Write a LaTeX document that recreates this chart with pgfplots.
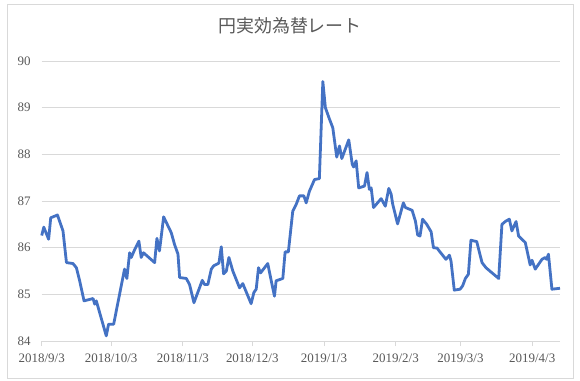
\documentclass[border=0pt]{standalone}
\usepackage{fontspec}
\setmainfont{Liberation Serif}
\newfontfamily\cjk{Noto Sans CJK JP}
\usepackage{pgfplots}
\pgfplotsset{compat=1.18}
\definecolor{serie}{HTML}{4472C4}
\definecolor{gridc}{HTML}{D9D9D9}
\definecolor{txt}{HTML}{595959}
\begin{document}
\begin{tikzpicture}[x=1bp,y=1bp]
\useasboundingbox (0,0) rectangle (580,380);
\fill[white] (0,0) rectangle (580,380);
\draw[gridc, line width=0.75bp] (7,2) rectangle (573,376);
\node[text=txt, font=\cjk\fontsize{18}{21}\selectfont] at (290,354) {円実効為替レート};
\begin{axis}[
  at={(41.7bp,39bp)}, anchor=south west, scale only axis,
  width=518.3bp, height=280bp,
  xmin=0, xmax=224, ymin=84, ymax=90,
  ytick={84,85,86,87,88,89,90},
  xtick={0,30,61,91,122,153,181,212},
  xticklabels={2018/9/3,2018/10/3,2018/11/3,2018/12/3,2019/1/3,2019/2/3,2019/3/3,2019/4/3},
  axis x line*=bottom, axis y line*=left,
  y axis line style={draw=none},
  x axis line style={draw=gridc, line width=0.75bp, -},
  ytick style={draw=none},
  xtick style={draw=gridc, line width=0.75bp, yshift=-5bp},
  major tick length=5bp,
  ymajorgrids, major grid style={draw=gridc, line width=0.75bp},
  /pgf/number format/assume math mode=true,
  ticklabel style={font=\fontsize{13}{15}\selectfont, text=txt},
  yticklabel style={anchor=east, inner sep=0pt, xshift=-11bp},
  xticklabel style={anchor=north, inner sep=0pt, yshift=-13bp},
  clip=false,
]
\addplot[serie, line width=2.8bp, line join=round, no markers] coordinates {
(0,86.26) (0.9,86.44) (3.0,86.18) (3.9,86.64) (6.8,86.70) (9.2,86.36)
(10.7,85.68) (13.5,85.66) (15.0,85.57) (16.4,85.29) (18.3,84.86) (22.2,84.91)
(22.9,84.79) (23.6,84.86) (27.9,84.11) (28.9,84.36) (31.1,84.36) (35.8,85.54)
(36.8,85.34) (38.0,85.89) (38.7,85.79) (40.2,85.96) (42.0,86.14) (43.0,85.79)
(44.0,85.89) (48.8,85.68) (49.8,86.20) (50.9,85.93) (52.7,86.66) (56.0,86.32)
(57.4,86.07) (58.9,85.86) (59.6,85.36) (62.5,85.34) (63.9,85.21) (65.8,84.82)
(69.4,85.30) (70.4,85.21) (71.8,85.21) (73.3,85.54) (74.3,85.61) (76.6,85.67)
(77.6,86.02) (78.6,85.44) (79.8,85.50) (80.9,85.79) (82.6,85.50) (85.5,85.14)
(86.9,85.23) (90.5,84.80) (91.7,85.04) (92.7,85.11) (93.7,85.57) (94.6,85.46)
(97.7,85.66) (99.2,85.29) (100.6,84.96) (101.3,85.29) (104.2,85.34) (105.2,85.91)
(106.6,85.91) (108.5,86.78) (110.0,86.93) (111.4,87.11) (113.3,87.11) (114.3,86.96)
(115.7,87.21) (117.9,87.46) (120.0,87.48) (121.5,89.56) (122.6,89.00) (124.4,88.75)
(125.8,88.57) (127.5,87.94) (128.7,88.18) (129.7,87.91) (132.7,88.31) (134.2,87.79)
(134.8,87.73) (135.9,87.86) (137.0,87.28) (139.5,87.32) (140.6,87.61) (141.6,87.25)
(142.4,87.28) (143.4,86.86) (146.7,87.05) (148.5,86.89) (150.0,87.27) (151.0,87.15)
(151.7,86.93) (153.8,86.51) (156.3,86.96) (157.2,86.86) (160.1,86.80) (161.5,86.57)
(162.5,86.27) (163.5,86.25) (164.6,86.61) (166.4,86.50) (168.3,86.34) (169.3,86.00)
(170.9,85.99) (171.8,85.93) (174.7,85.75) (176.2,85.84) (176.9,85.71) (178.3,85.09)
(180.8,85.11) (181.9,85.18) (183.1,85.34) (184.4,85.43) (185.5,86.16) (188.0,86.13)
(190.3,85.68) (192.0,85.57) (197.5,85.34) (198.9,86.50) (200.6,86.57) (202.1,86.61)
(203.2,86.36) (205.0,86.56) (206.1,86.25) (209.0,86.11) (211.1,85.63) (211.9,85.73)
(213.3,85.54) (216.2,85.75) (217.6,85.79) (218.2,85.75) (219.0,85.86) (220.5,85.11)
(224,85.13)
};
\end{axis}
\end{tikzpicture}
\end{document}
